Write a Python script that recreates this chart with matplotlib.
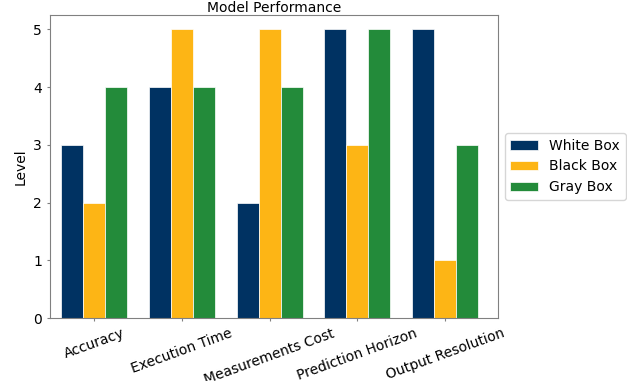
import numpy as np
import matplotlib
matplotlib.use('Agg')
import matplotlib.pyplot as plt

categories = ['Accuracy', 'Execution Time', 'Measurements Cost', 'Prediction Horizon', 'Output Resolution']
white_box = [3, 4, 2, 5, 5]
black_box = [2, 5, 5, 3, 1]
gray_box = [4, 4, 4, 5, 3]

series = [('White Box', white_box, '#003262'),
          ('Black Box', black_box, '#FDB515'),
          ('Gray Box', gray_box, '#238B3A')]

fig = plt.figure(figsize=(6.27, 3.81), dpi=100)
ax = fig.add_axes([0.08, 0.165, 0.714, 0.796])

x = np.arange(len(categories))
width = 0.25
for i, (name, vals, col) in enumerate(series):
    ax.bar(x + (i - 1) * width, vals, width, label=name, color=col,
           edgecolor='white', linewidth=0.5)

ax.set_xlim(-0.5, 4.6)
ax.set_xticks(x)
ax.set_xticklabels(categories, rotation=20, ha='center', fontsize=10)
ax.tick_params(axis='both', length=2.5, color='gray')
ax.tick_params(axis='y', labelsize=10)
ax.set_yticks(range(6))
ax.set_ylabel('Level', fontsize=10)
ax.set_title('Model Performance', fontsize=10, pad=2)
for s in ax.spines.values():
    s.set_color('gray')

ax.legend(loc='center left', bbox_to_anchor=(1.0, 0.5), fontsize=10)

fig.savefig('out.png', dpi=100)
